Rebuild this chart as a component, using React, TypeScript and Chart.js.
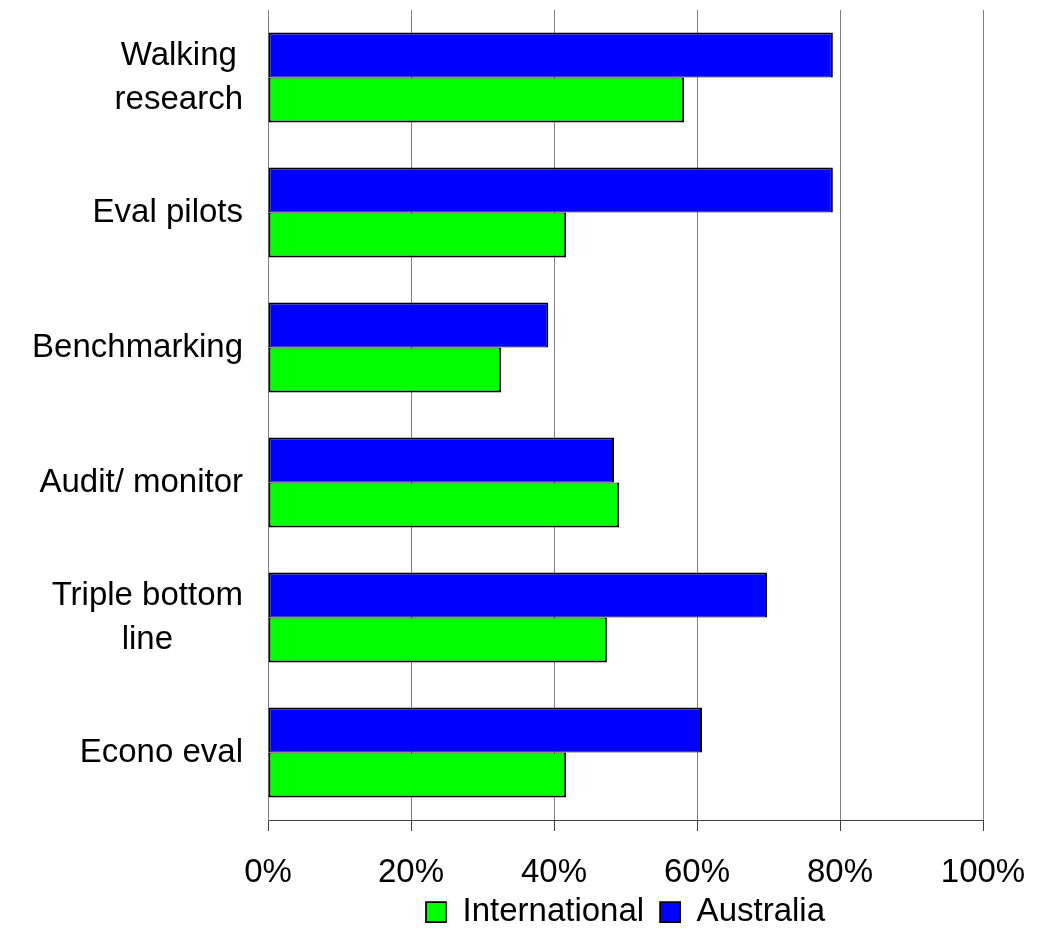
import React, { useEffect, useRef } from "react";
import { Chart, registerables } from "chart.js";

Chart.register(...registerables);

const categories: (string | string[])[] = [
  ["Walking", "research"],
  "Eval pilots",
  "Benchmarking",
  "Audit/ monitor",
  ["Triple bottom", "line"],
  "Econo eval",
];
const australia = [79.0, 79.0, 39.2, 48.4, 69.8, 60.7];
const international = [58.2, 41.7, 32.6, 49.1, 47.4, 41.7];
const xTickValues = [0, 20, 40, 60, 80, 100];

const FONT = '"Liberation Sans", Arial, Helvetica, sans-serif';
const FONT_SIZE = 33;

const yLabelPlugin = {
  id: "yLabelsCentered",
  afterDraw(chart: any) {
    const scale = chart.scales.y;
    const ctx = chart.ctx;
    ctx.save();
    ctx.font = `${FONT_SIZE}px ${FONT}`;
    ctx.fillStyle = "#000";
    ctx.textAlign = "center";
    ctx.textBaseline = "middle";
    const right = scale.right - 25;
    const lh = 44;
    categories.forEach((lab, i) => {
      const lines = Array.isArray(lab) ? lab : [lab];
      const w = Math.max(...lines.map((l) => ctx.measureText(l).width));
      const cx = right - w / 2;
      const cy = scale.getPixelForTick(i);
      lines.forEach((l, j) => {
        ctx.fillText(l, cx, cy + (j - (lines.length - 1) / 2) * lh);
      });
    });
    ctx.restore();
  },
};

const legendShiftPlugin = {
  id: "legendShift",
  afterLayout(chart: any) {
    const lg = chart.legend;
    if (lg) {
      lg.top -= 10.5;
      lg.bottom -= 10.5;
    }
  },
};

export default function App() {
  const ref = useRef<HTMLCanvasElement | null>(null);

  useEffect(() => {
    document.body.style.margin = "0";
    const canvas = ref.current;
    if (!canvas) return;
    const chart = new Chart(canvas, {
      type: "bar",
      data: {
        labels: categories as any,
        datasets: [
          {
            label: "Australia",
            data: australia,
            backgroundColor: "#0000FF",
            borderColor: "#000000",
            borderWidth: { top: 2, right: 2, bottom: 1, left: 2 },
            borderSkipped: false,
            categoryPercentage: 0.667,
            barPercentage: 1.0,
          },
          {
            label: "International",
            data: international,
            backgroundColor: "#00FF00",
            borderColor: "#000000",
            borderWidth: { top: 1, right: 2, bottom: 2, left: 2 },
            borderSkipped: false,
            categoryPercentage: 0.667,
            barPercentage: 1.0,
          },
        ],
      },
      options: {
        indexAxis: "y",
        animation: false,
        responsive: false,
        layout: { padding: { top: 10, right: 60, bottom: -21, left: 0 } },
        scales: {
          x: {
            min: 0,
            max: 100,
            afterBuildTicks: (s: any) => {
              s.ticks = xTickValues.map((v) => ({ value: v }));
            },
            ticks: {
              callback: (v: any) => `${v}%`,
              font: { family: FONT, size: FONT_SIZE, lineHeight: 1 },
              color: "#000",
              padding: 25,
              maxRotation: 0,
              autoSkip: false,
            },
            grid: {
              color: "#808080",
              lineWidth: 1,
              tickLength: 11,
              tickColor: "#404040",
            },
            border: { display: true, color: "#404040", width: 1 },
            afterFit: (s: any) => {
              s.height = 70;
              s.paddingRight = 0;
              s.paddingLeft = 0;
            },
          },
          y: {
            ticks: { display: false },
            grid: { display: false },
            border: { display: true, color: "#808080", width: 1 },
            afterFit: (s: any) => {
              s.width = 268;
            },
          },
        },
        plugins: {
          legend: {
            position: "bottom",
            reverse: true,
            fullSize: false,
            labels: {
              font: { family: FONT, size: FONT_SIZE },
              color: "#000",
              boxWidth: 20,
              boxHeight: 20,
              padding: 16,
            },
          },
          tooltip: { enabled: false },
        },
      } as any,
      plugins: [yLabelPlugin, legendShiftPlugin],
    });
    return () => chart.destroy();
  }, []);

  return (
    <div style={{ position: "absolute", left: 0, top: 0, width: 1043, height: 928 }}>
      <canvas ref={ref} width={1043} height={928} />
    </div>
  );
}
